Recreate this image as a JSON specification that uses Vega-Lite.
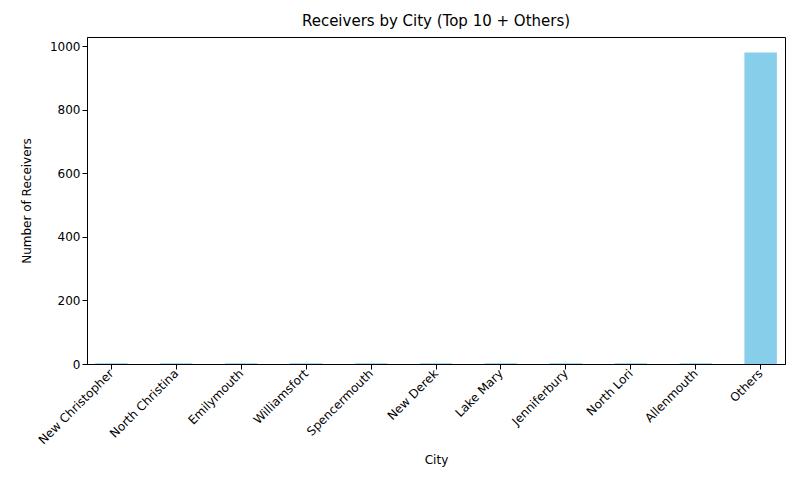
{
"$schema":"https://vega.github.io/schema/vega-lite/v6.json",
"width":698,"height":327,
"autosize":{"type":"none"},
"padding":{"left":87,"top":37,"right":15,"bottom":136},
"background":"white",
"title":{"text":"Receivers by City (Top 10 + Others)","fontSize":15,"font":"DejaVu Sans","fontWeight":"normal","color":"black","offset":8},
"config":{"view":{"stroke":"black","strokeWidth":1},"axis":{"labelFont":"DejaVu Sans","titleFont":"DejaVu Sans","labelFontSize":12,"titleFontSize":12,"titleFontWeight":"normal","labelColor":"black","titleColor":"black","domainColor":"black","tickColor":"black","grid":false}},
"data":{"values":[
{"city":"New Christopher","n":2},{"city":"North Christina","n":2},{"city":"Emilymouth","n":2},{"city":"Williamsfort","n":2},{"city":"Spencermouth","n":2},{"city":"New Derek","n":2},{"city":"Lake Mary","n":2},{"city":"Jenniferbury","n":2},{"city":"North Lori","n":2},{"city":"Allenmouth","n":2},{"city":"Others","n":980}]},
"mark":{"type":"bar","color":"#87CEEB"},
"encoding":{
"x":{"field":"city","type":"nominal","sort":null,"title":"City","scale":{"paddingInner":0.5,"paddingOuter":0.125},"axis":{"labelAngle":-45,"labelAlign":"right","labelBaseline":"middle","labelPadding":2,"titlePadding":8}},
"y":{"field":"n","type":"quantitative","title":"Number of Receivers","scale":{"domain":[0,1029],"nice":false},"axis":{"values":[0,200,400,600,800,1000],"format":"d","titlePadding":16}}
}
}
